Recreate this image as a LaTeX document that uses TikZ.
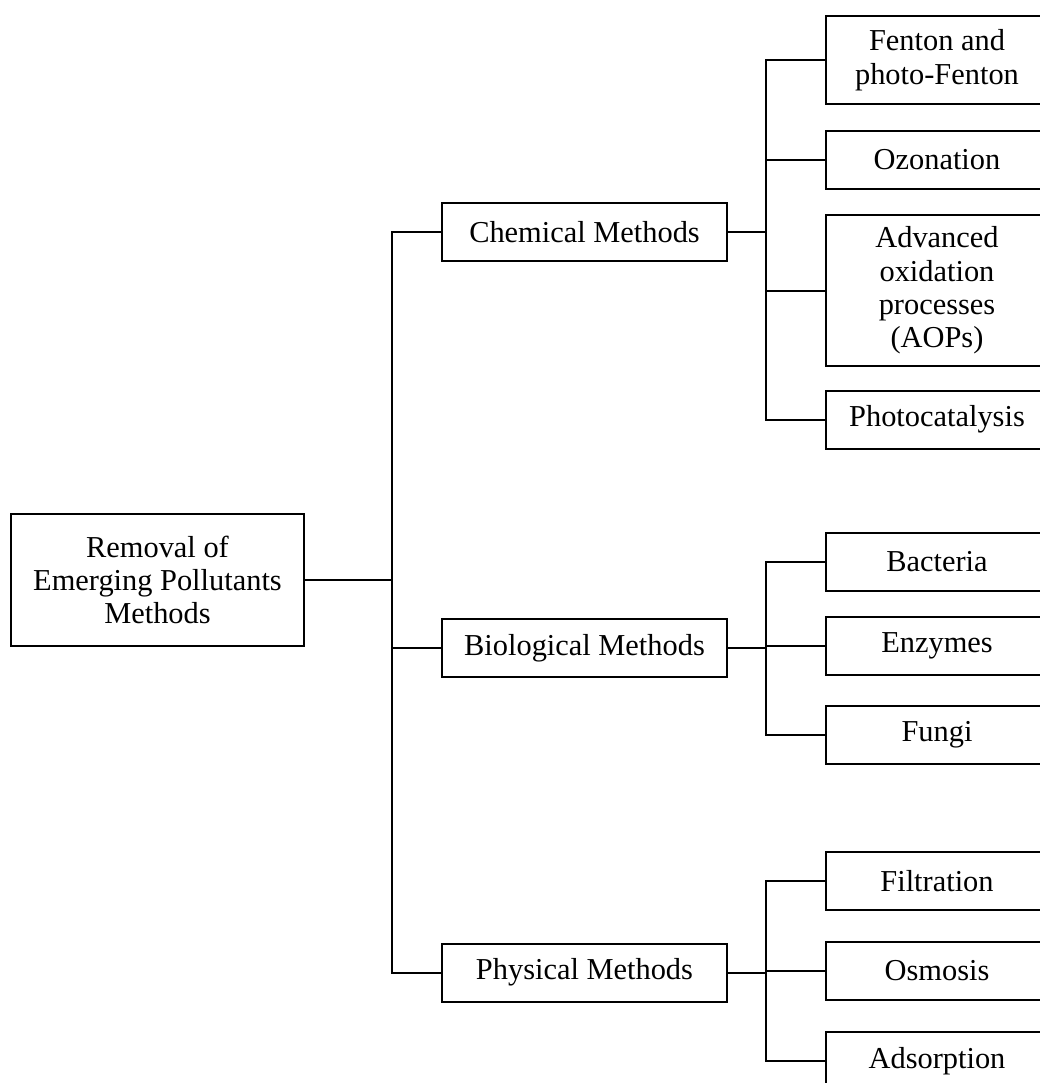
\documentclass[tikz,border=0pt]{standalone}
\usepackage{fontspec}
\setmainfont{Liberation Serif}
\usepackage{tikz}
\usetikzlibrary{positioning,calc}

\begin{document}
\begin{tikzpicture}[x=0.5pt, y=-0.5pt,
  box/.style={draw, line width=1pt, align=center, inner sep=0pt,
              font=\fontsize{15.2}{16.7}\selectfont},
  mid/.style={box, minimum width=142.5pt, minimum height=29pt},
  leaf/.style={box, anchor=west, minimum width=111pt, minimum height=29pt},
  link/.style={line width=1pt},
]
\path[use as bounding box, clip] (0,0) rectangle (1040,1083);
\def\tx{392}  % trunk
\def\bx{766}  % branches
\def\lx{825}  % leaves
\node[box, minimum width=146.5pt, minimum height=66pt] (root) at (157.5,580)
  {Removal of\\ Emerging Pollutants\\ Methods};
\node[mid] (chem) at (584.5,232)   {Chemical Methods};
\node[mid] (bio)  at (584.5,648)   {Biological Methods};
\node[mid] (phys) at (584.5,972.5) {Physical Methods};
% chemical
\node[leaf, minimum height=44pt] (fen) at (\lx,60) {Fenton and\\ photo-Fenton};
\node[leaf] (ozo) at (\lx,159.5) {Ozonation};
\node[leaf, minimum height=75.5pt] (aop) at (\lx,290.5)
  {Advanced\\ oxidation\\ processes\\ (AOPs)};
\node[leaf] (pcat) at (\lx,419.5) {Photocatalysis};
% biological
\node[leaf] (bac) at (\lx,562)   {Bacteria};
\node[leaf] (enz) at (\lx,646)   {Enzymes};
\node[leaf] (fun) at (\lx,734.5) {Fungi};
% physical
\node[leaf] (fil) at (\lx,881)    {Filtration};
\node[leaf] (osm) at (\lx,970.5)  {Osmosis};
\node[leaf] (ads) at (\lx,1061)   {Adsorption};
\coordinate (tk) at (\tx,0);
\coordinate (br) at (\bx,0);
\draw[link] (root.east) -- (root.east -| tk);
\draw[link] (chem.west) -- (chem.west -| tk) -- (phys.west -| tk) -- (phys.west);
\draw[link] (bio.west) -- (bio.west -| tk);
\foreach \m/\a/\b in {chem/fen/pcat,bio/bac/fun,phys/fil/ads}
  \draw[link] (\m.east) -- (\m.east -| br)
              (\a.west) -- (\a.west -| br) -- (\b.west -| br) -- (\b.west);
\foreach \n in {ozo,aop,enz,osm}
  \draw[link] (\n.west) -- (\n.west -| br);
\end{tikzpicture}
\end{document}
